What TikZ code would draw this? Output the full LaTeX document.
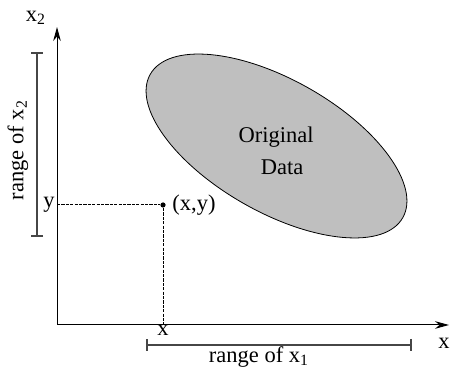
\documentclass[tikz,border=0pt]{standalone}
\usepackage{fontspec}
\setmainfont{Liberation Serif}
\usetikzlibrary{arrows.meta, positioning}

\begin{document}
\begin{tikzpicture}[
   x=0.5pt, y=-0.5pt,
   lbl/.style={font=\fontsize{11.25}{16}\selectfont, inner sep=1pt},
   axis/.style={line width=0.5pt, -{Stealth[length=7pt, width=3.8pt]}},
   guide/.style={line width=0.5pt, dash pattern=on 1.6pt off 0.6pt},
   rangebar/.style={gray!55!black, line width=0.8pt,
                    {Bar[width=6pt]}-{Bar[width=6pt]}},
   blob/.style={draw, fill=black!25, line width=0.4pt},
   pt/.style={circle, fill, inner sep=0pt, minimum size=2.6pt}]

  \useasboundingbox (0,0) rectangle (454,367);

  % axes
  \coordinate (o) at (57,325);
  \coordinate (ytop) at (57,27);
  \coordinate (xend) at (449,325);
  \draw[axis] (o) -- (ytop);
  \draw[axis] (o) -- (xend);
  \node[lbl] (x2lab) at (36,18) {x\textsubscript{2}};
  \node[lbl] (x1lab) at (444,343) {x};

  % data cloud
  \draw[blob] (276.5,146) ellipse [x radius=72.6pt, y radius=33.1pt, rotate=-29.6];
  \node[lbl, align=center] (data) at (276,151) {Original\\ \hspace{6pt}Data};

  % one sample
  \node[pt] (p) at (163,205) {};
  \node[lbl, right=2pt of p] (plab) {(x,y)};
  \coordinate (py) at (57,205);
  \coordinate (px) at (163,325);
  \draw[guide] (py) -- (p);
  \draw[guide] (p) -- (px);
  \node[lbl, left=0pt of py] (ylab) {y};
  \node[lbl, below=-1pt of px] (xlab) {x};

  % ranges
  \coordinate (r2a) at (37,237);
  \coordinate (r2b) at (37,52);
  \draw[rangebar] (r2a) -- (r2b);
  \node[lbl, rotate=90] (r2lab) at (18,150) {range of x\textsubscript{2}};
  \coordinate (r1a) at (146,345);
  \coordinate (r1b) at (412,345);
  \draw[rangebar] (r1a) -- (r1b);
  \node[lbl] (r1lab) at (259,357) {range of x\textsubscript{1}};
\end{tikzpicture}
\end{document}
